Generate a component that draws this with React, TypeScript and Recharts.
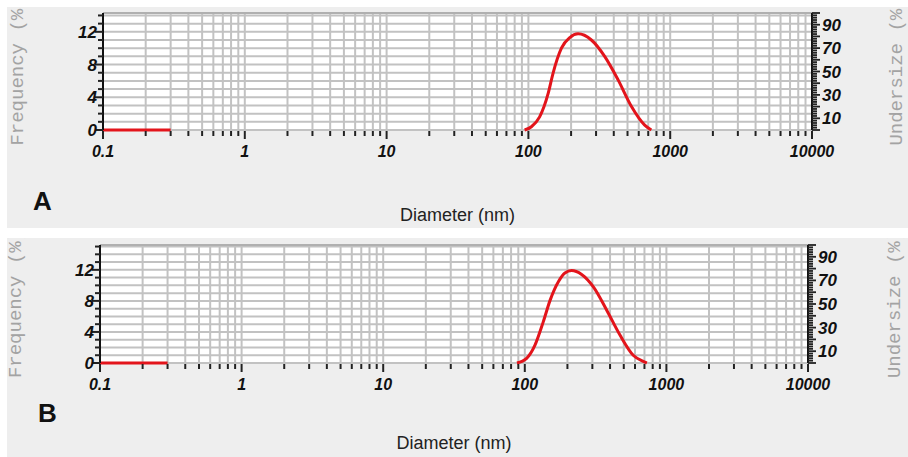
import React from 'react';
import { LineChart, Line, XAxis, YAxis, CartesianGrid, ReferenceLine } from 'recharts';

// size distribution (DLS), two samples A and B
const DECADES = [0.1, 1, 10, 100, 1000, 10000];
const DECADE_LABELS = ['0.1', '1', '10', '100', '1000', '10000'];
const STEPS = [1, 2, 3, 4, 5, 6, 7, 8, 9];
const FREQ_LABELS = [0, 4, 8, 12];
const UNDERSIZE_LABELS = [10, 30, 50, 70, 90];

const A_DIAM = [0.1, 0.2, 0.3, 1, 94, 105, 120, 138, 149, 171, 196, 224, 278, 345, 430, 532, 661, 736];
const A_FREQ = [0, 0, 0, null, 0, 0.4, 1.6, 4.5, 6.9, 10.0, 11.3, 11.75, 11.0, 9.0, 6.1, 2.9, 0.6, 0];

const B_DIAM = [0.1, 0.2, 0.3, 1, 88, 103, 118, 135, 151, 173, 192, 214, 252, 305, 379, 470, 583, 687, 728];
const B_FREQ = [0, 0, 0, null, 0, 0.6, 2.3, 5.3, 8.1, 10.5, 11.6, 11.9, 11.4, 9.8, 6.8, 3.6, 1.0, 0.2, 0];

const X_TICKS = DECADES.flatMap((d, i) => (i === DECADES.length - 1 ? [d] : STEPS.map(s => d * s)));
const RIGHT_TICKS = Array.from({ length: 51 }, (_, i) => i * 2);

const CHART_W = 901;

const PANELS = [
  {
    letter: 'A', diam: A_DIAM, freq: A_FREQ, top: 7, height: 221,
    plotLeft: 96, plotRight: 805, plotTop: 6, plotBottom: 123, freqMax: 14.3,
    leftTitleX: 16, rightTitleX: 895, xTitleOff: 91, letterX: 26, letterBase: 203,
  },
  {
    letter: 'B', diam: B_DIAM, freq: B_FREQ, top: 238, height: 219,
    plotLeft: 93, plotRight: 801, plotTop: 7, plotBottom: 125, freqMax: 15.2,
    leftTitleX: 14, rightTitleX: 893, xTitleOff: 86, letterX: 31, letterBase: 184,
  },
];

const tickFont = {
  fontFamily: '"Liberation Sans", Arial, sans-serif',
  fontWeight: 700,
  fontStyle: 'italic' as const,
  fill: '#111',
};

function XTick({ x, y, payload }: any) {
  const idx = DECADES.indexOf(payload.value);
  const major = idx >= 0;
  return (
    <g>
      <line x1={x} x2={x} y1={y + 1} y2={y + (major ? 9 : 6)} stroke="#222" strokeWidth={2} />
      {major && (
        <text x={x} y={y + 27} textAnchor="middle" fontSize={16} {...tickFont}>{DECADE_LABELS[idx]}</text>
      )}
    </g>
  );
}

function LeftTick({ x, y, payload }: any) {
  const labelled = FREQ_LABELS.includes(payload.value);
  return (
    <g>
      <line x1={x - (labelled ? 8 : 5)} x2={x} y1={y} y2={y} stroke="#222" strokeWidth={2} />
      {labelled && (
        <text x={x - 6} y={y} dy={6} textAnchor="end" fontSize={17} {...tickFont}>{payload.value}</text>
      )}
    </g>
  );
}

function RightTick({ x, y, payload }: any) {
  const v = payload.value;
  return (
    <g>
      <line x1={x} x2={x + (v % 10 === 0 ? 8 : 5)} y1={y} y2={y} stroke="#222" strokeWidth={1.8} />
      {UNDERSIZE_LABELS.includes(v) && (
        <text x={x + 10} y={y} dy={6} textAnchor="start" fontSize={17} {...tickFont}>{v}</text>
      )}
    </g>
  );
}

function vTitle(bx: number, text: string) {
  return ({ viewBox }: any) => {
    const cy = viewBox.y + viewBox.height / 2;
    return (
      <text
        transform={`translate(${bx},${cy}) rotate(-90)`}
        textAnchor="middle"
        fontFamily='"Liberation Mono", "Courier New", monospace'
        fontSize={19}
        fill="#a3a3a3"
      >
        {text}
      </text>
    );
  };
}

function xTitle(off: number) {
  return ({ viewBox }: any) => (
    <text
      x={viewBox.x + viewBox.width / 2}
      y={viewBox.y + off}
      textAnchor="middle"
      fontFamily='"Liberation Sans", Arial, sans-serif'
      fontSize={18}
      fill="#222"
    >
      Diameter (nm)
    </text>
  );
}

function Panel({ p }: any) {
  const rows = p.diam.map((d: number, i: number) => ({ d, f: p.freq[i] }));
  const leftTicks = Array.from({ length: Math.floor(p.freqMax) + 1 }, (_, i) => i);
  return (
    <div
      style={{
        position: 'absolute', left: 7, top: p.top, width: CHART_W, height: p.height,
        background: '#eeeeee', overflow: 'hidden',
      }}
    >
      <LineChart
        width={CHART_W}
        height={p.height}
        data={rows}
        margin={{ top: p.plotTop, right: 0, bottom: 0, left: 0 }}
      >
        <CartesianGrid yAxisId="left" stroke="#c2c2c2" strokeWidth={2} fill="#fff" fillOpacity={1} />
        <XAxis
          dataKey="d"
          type="number"
          scale="log"
          domain={[0.1, 10000]}
          ticks={X_TICKS}
          interval={0}
          height={p.height - p.plotBottom}
          tickSize={0}
          tickMargin={0}
          tickLine={false}
          axisLine={false}
          tick={<XTick />}
          label={{ content: xTitle(p.xTitleOff) }}
        />
        <YAxis
          yAxisId="left"
          type="number"
          domain={[0, p.freqMax]}
          ticks={leftTicks}
          interval={0}
          width={p.plotLeft}
          tickSize={0}
          tickMargin={0}
          tickLine={false}
          axisLine={{ stroke: '#111', strokeWidth: 2 }}
          tick={<LeftTick />}
          label={{ content: vTitle(p.leftTitleX, 'Frequency (%)') }}
        />
        <YAxis
          yAxisId="right"
          orientation="right"
          type="number"
          domain={[0, 100]}
          allowDataOverflow
          ticks={RIGHT_TICKS}
          interval={0}
          width={CHART_W - p.plotRight}
          tickSize={0}
          tickMargin={0}
          tickLine={false}
          axisLine={{ stroke: '#111', strokeWidth: 2 }}
          tick={<RightTick />}
          label={{ content: vTitle(p.rightTitleX, 'Undersize (%)') }}
        />
        <ReferenceLine yAxisId="left" y={p.freqMax} stroke="#b0b0b0" strokeWidth={2} />
        <Line
          yAxisId="left"
          dataKey="f"
          type="monotone"
          stroke="#e3141b"
          strokeWidth={3}
          dot={false}
          connectNulls={false}
          isAnimationActive={false}
        />
      </LineChart>
      <div
        style={{
          position: 'absolute', left: p.letterX, top: p.letterBase - 22,
          fontFamily: '"Liberation Sans", Arial, sans-serif', fontWeight: 700,
          fontSize: 26, lineHeight: '26px', color: '#111',
        }}
      >
        {p.letter}
      </div>
    </div>
  );
}

export default function App() {
  return (
    <div style={{ position: 'absolute', left: 0, top: 0, width: 908, height: 457, background: '#fff' }}>
      {PANELS.map(p => (
        <Panel key={p.letter} p={p} />
      ))}
    </div>
  );
}
